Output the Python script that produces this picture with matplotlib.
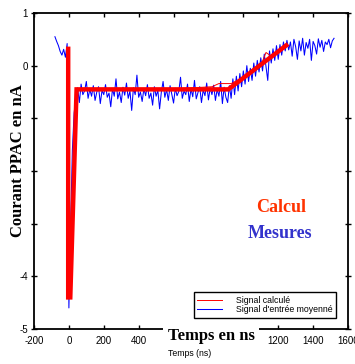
import numpy as np
import matplotlib
matplotlib.use("Agg")
import matplotlib.pyplot as plt

# measured signal, one sample every 10 ns from -80 ns to 1520 ns
t_mes = np.arange(-80, 1530, 10)
v_mes = [
    0.55, 0.46, 0.38, 0.27, 0.20, 0.31, 0.16, 0.42,
    -4.6,
    -3.0, -1.6, -0.9, -0.62,
    -0.42, -0.70, -0.35, -0.55, -0.48, -0.30, -0.62, -0.45, -0.58, -0.38,
    -0.66, -0.50, -0.40, -0.72, -0.47, -0.55, -0.36, -0.60, -0.52, -0.78,
    -0.44, -0.58, -0.25, -0.63, -0.50, -0.70, -0.41, -0.56, -0.33, -0.62,
    -0.48, -0.85, -0.42, -0.55, -0.18, -0.60, -0.50, -0.68, -0.44, -0.57,
    -0.36, -0.62, -0.52, -0.75, -0.40, -0.58, -0.47, -0.82, -0.50, -0.30,
    -0.60, -0.45, -0.66, -0.38, -0.54, -0.71, -0.43, -0.57, -0.49, -0.22,
    -0.62, -0.48, -0.55, -0.35, -0.68, -0.44, -0.59, -0.28, -0.63, -0.51,
    -0.40, -0.70, -0.46, -0.57, -0.33, -0.65, -0.42, -0.55, -0.37, -0.66,
    -0.45, -0.58, -0.30, -0.72, -0.41, -0.60,
    -0.70, -0.38, -0.62, -0.25, -0.55, -0.20, -0.48, -0.15, -0.40, -0.10,
    -0.35, 0.00, -0.30, -0.05, -0.28, 0.05, -0.20, 0.10, -0.12, 0.15,
    -0.10, 0.22, -0.02, -0.28, 0.28, 0.05, 0.32, 0.10, 0.38, 0.12,
    0.40, 0.20, 0.45, 0.28,
    0.48, 0.30, 0.45, 0.18, 0.50, 0.36, 0.12, 0.47, 0.28, 0.52,
    0.20, 0.44, 0.33, 0.50, 0.10, 0.46, 0.38, 0.22, 0.51, 0.35,
    0.48, 0.27, 0.45, 0.40, 0.50, 0.34, 0.47, 0.52,
]

# computed signal (thin red)
t_calc = [-4, -4, 8, 44, 300, 600, 820, 860, 930, 1000, 1100, 1130, 1160, 1200, 1246]
v_calc = [0.32, -4.4, -4.4, -0.45, -0.46, -0.44, -0.40, -0.34, -0.34, -0.22, 0.0, 0.25, 0.18, 0.28, 0.38]

# piecewise fit (thick red)
t_fit = [-4, -4, 8, 44, 914, 1246]
v_fit = [0.32, -4.4, -4.4, -0.45, -0.45, 0.385]

xticks = [-200, 0, 200, 400, 600, 800, 1000, 1200, 1400, 1600]
xlabels = ['-200', '0', '200', '400', '', '', '', '1200', '1400', '1600']
yticks = [-5, -4, -3, -2, -1, 0, 1]
ylabels = ['-5', '-4', '', '', '', '0', '1']

fig = plt.figure(figsize=(3.55, 3.64), dpi=100)
ax = fig.add_axes([34/355, 35/364, 314/355, 316/364])

ax.plot(t_mes, v_mes, color='blue', lw=0.75, label="Signal d'entrée moyenné")
ax.plot(t_calc, v_calc, color='red', lw=0.7, label='Signal calculé')
ax.plot(t_fit, v_fit, color='red', lw=3.2, solid_joinstyle='miter')

ax.set_xlim(-200, 1600)
ax.set_ylim(-5, 1)
ax.set_xticks(xticks)
ax.set_xticklabels(xlabels, fontsize=7, family='Liberation Sans')
ax.set_yticks(yticks)
ax.set_yticklabels(ylabels, fontsize=7, family='Liberation Sans')
ax.tick_params(top=True, right=True, direction='in', length=3, width=1, pad=2)
ax.tick_params(axis='x', pad=5)
ax.tick_params(axis='y', which='both', left=True, direction='inout', length=5)
for s in ax.spines.values():
    s.set_linewidth(1.3)

h, l = ax.get_legend_handles_labels()
leg = ax.legend([h[1], h[0]], [l[1], l[0]], loc='lower right',
                bbox_to_anchor=(340/355, 42/364), bbox_transform=fig.transFigure,
                fancybox=False, framealpha=1, edgecolor='black',
                prop={'family': 'Liberation Sans', 'size': 6.3},
                handlelength=2.8, handletextpad=1.6, labelspacing=0.05,
                borderpad=0.4)
leg.get_frame().set_linewidth(1.0)

fig.text(18.5/355, (364-161)/364, 'Courant PPAC en nA', rotation=90,
         ha='center', va='center', fontsize=12, fontweight='bold',
         family='Liberation Serif')
fig.text(211/355, (364-336)/364, 'Temps en ns', ha='center', va='center',
         fontsize=12, fontweight='bold', family='Liberation Serif',
         bbox=dict(facecolor='white', edgecolor='none', pad=3))
fig.text(190/355, (364-354)/364, 'Temps (ns)', ha='center', va='center',
         fontsize=6.3, family='Liberation Sans')
fig.text(281/355, (364-208)/364, 'Calcul', ha='center', va='center',
         fontsize=13, fontweight='bold', family='Liberation Serif', color='#ff3300')
fig.text(280/355, (364-233)/364, 'Mesures', ha='center', va='center',
         fontsize=13, fontweight='bold', family='Liberation Serif', color='#3333cc')

fig.savefig('out.png', dpi=100)
